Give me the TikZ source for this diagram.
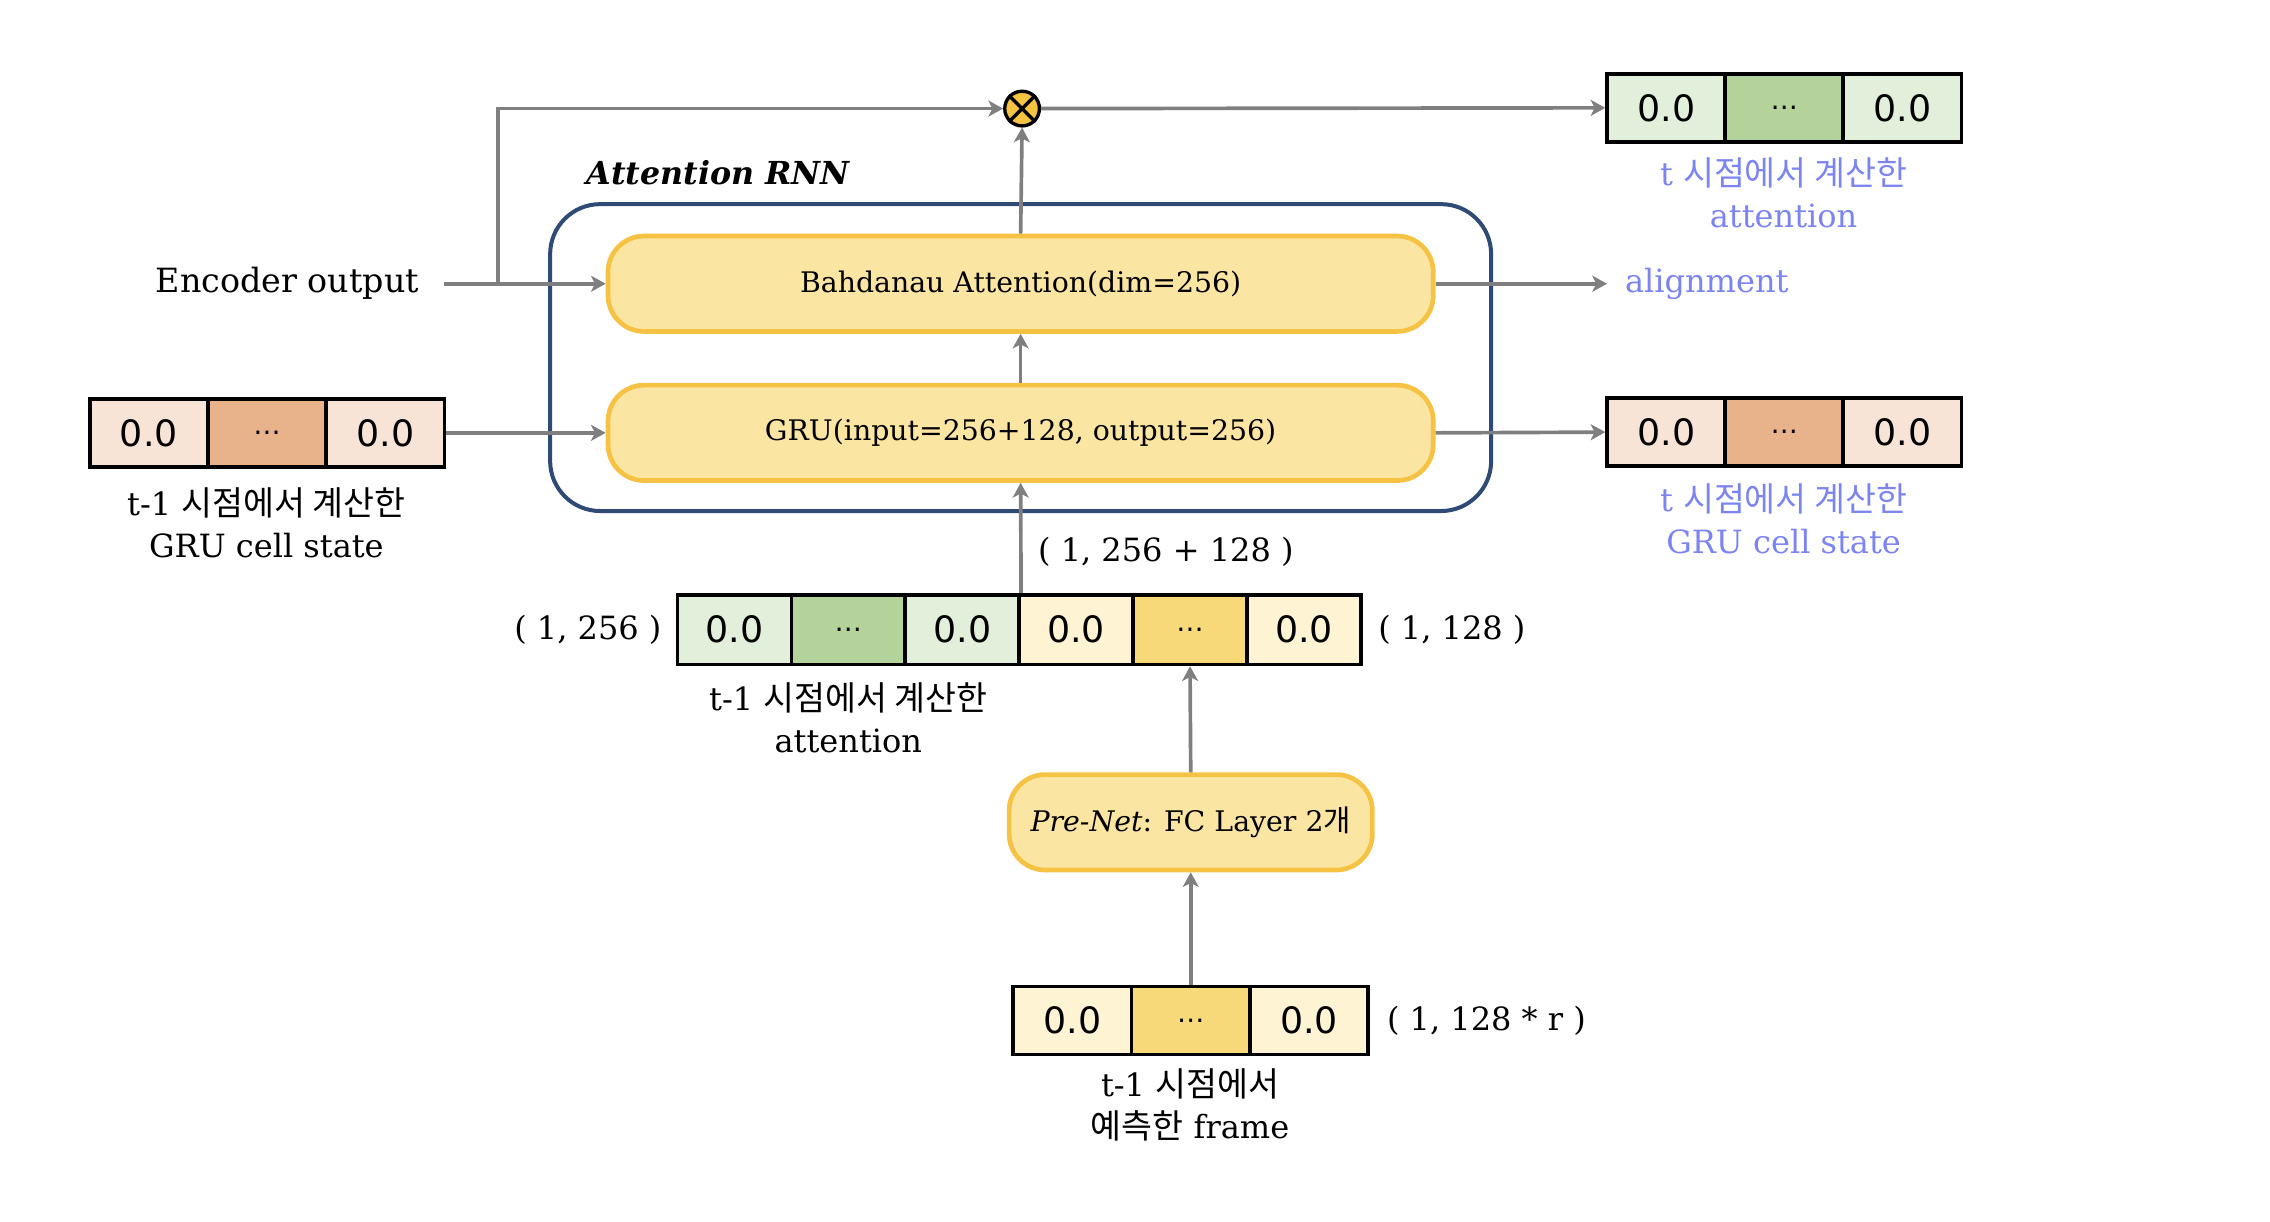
\documentclass[tikz,border=0pt]{standalone}
\usepackage{fontspec}
\setmainfont{DejaVu Serif}
\newfontfamily\krfont{Noto Sans CJK KR}[Scale=1.05]
\newfontfamily\numfont{DejaVu Sans}
\newcommand{\kr}[1]{{\krfont #1}}
\newcommand{\lblfont}{\fontsize{9.6}{12.6}\selectfont}
\newcommand{\boxfont}{\fontsize{8.5}{10}\selectfont}
\newcommand{\cellfont}{\numfont\fontsize{10.9}{12}\selectfont}
\newcommand{\dotsy}{{\numfont\fontsize{8.2}{9}\selectfont …}}
\usetikzlibrary{arrows.meta}
\definecolor{linegray}{RGB}{127,127,127}
\definecolor{navy}{RGB}{47,75,117}
\definecolor{boxfill}{RGB}{251,229,163}
\definecolor{boxdraw}{RGB}{245,194,67}
\definecolor{grnL}{RGB}{226,239,218}
\definecolor{grnM}{RGB}{179,211,155}
\definecolor{orL}{RGB}{248,228,214}
\definecolor{orM}{RGB}{232,179,138}
\definecolor{yelL}{RGB}{254,243,210}
\definecolor{yelM}{RGB}{247,217,122}
\definecolor{otfill}{RGB}{245,195,66}
\definecolor{bluetxt}{RGB}{123,132,240}
\tikzset{
  arr/.style={draw=linegray, line width=1.1pt, -{Stealth[length=4.4pt,width=4.8pt,inset=1.2pt]}},
  cellbox/.style={draw=black, line width=1.1pt, minimum width=35.46pt, minimum height=20.4pt, inner sep=0pt, font=\cellfont},
  ccell/.style={cellbox, minimum width=34.14pt, minimum height=20.8pt},
  ybox/.style={draw=boxdraw, fill=boxfill, line width=1.4pt, rounded corners=10.8pt, minimum width=247.4pt, minimum height=28.6pt, font=\boxfont},
  container/.style={draw=navy, line width=1.2pt, rounded corners=15pt, minimum width=282.1pt, minimum height=92pt},
  lbl/.style={font=\lblfont, inner sep=2pt, align=center},
  bluelbl/.style={lbl, text=bluetxt},
  otimes/.style={circle, draw=black, fill=otfill, line width=1pt, minimum size=10.4pt, inner sep=0pt},
}
\begin{document}
\begin{tikzpicture}[x=0.434pt,y=-0.434pt]
\useasboundingbox (0,0) rectangle (1568,844);

% container and title
\node[container] (rnn) at (705,247) {};
\node[anchor=west, inner sep=0pt, font=\fontsize{9.5}{11}\selectfont\bfseries\itshape] (rnnt) at (405,119) {Attention RNN};

% inner boxes
\node[ybox] (bahd) at (705,196) {Bahdanau Attention(dim=256)};
\node[ybox] (gru) at (705,299) {GRU(input=256+128, output=256)};

% otimes
\node[otimes] (ot) at (706,75) {};
\draw[line width=1pt] (ot.north west) -- (ot.south east) (ot.north east) -- (ot.south west);

% top right attention vector
\node[cellbox, fill=grnL] (ta1) at (1151,74.5) {0.0};
\node[cellbox, fill=grnM] (ta2) at (1232.5,74.5) {\dotsy};
\node[cellbox, fill=grnL] (ta3) at (1314,74.5) {0.0};
\node[bluelbl] (talbl) at (1232,133.5) {t \kr{시점에서 계산한}\\attention};

% alignment
\node[bluelbl, anchor=west, inner sep=0pt] (al) at (1122,196) {alignment};

% right GRU state
\node[cellbox, fill=orL] (rg1) at (1151,298.5) {0.0};
\node[cellbox, fill=orM] (rg2) at (1232.5,298.5) {\dotsy};
\node[cellbox, fill=orL] (rg3) at (1314,298.5) {0.0};
\node[bluelbl] (rglbl) at (1232,358.5) {t \kr{시점에서 계산한}\\GRU cell state};

% left GRU state
\node[cellbox, fill=orL] (lg1) at (102.8,299) {0.0};
\node[cellbox, fill=orM] (lg2) at (184.5,299) {\dotsy};
\node[cellbox, fill=orL] (lg3) at (266.2,299) {0.0};
\node[lbl] (lglbl) at (184,361) {t-1 \kr{시점에서 계산한}\\GRU cell state};

% encoder output
\node[lbl, anchor=east, inner sep=3.4pt, font=\fontsize{10}{12}\selectfont] (enc) at (297.8,196) {Encoder output};
\coordinate (br) at (344,196);

% concat vector
\node[ccell, fill=grnL] (c1) at (507.3,435) {0.0};
\node[ccell, fill=grnM] (c2) at (586,435) {\dotsy};
\node[ccell, fill=grnL] (c3) at (664.7,435) {0.0};
\node[ccell, fill=yelL] (c4) at (743.3,435) {0.0};
\node[ccell, fill=yelM] (c5) at (822,435) {\dotsy};
\node[ccell, fill=yelL] (c6) at (900.7,435) {0.0};
\node[lbl, anchor=east] (d256) at (462,435) {( 1, 256 )};
\node[lbl, anchor=west] (d128) at (947,435) {( 1, 128 )};
\node[lbl, anchor=west] (dsum) at (712,381) {( 1, 256 + 128 )};
\node[lbl] (clbl) at (586,496) {t-1 \kr{시점에서 계산한}\\attention};

% pre-net
\node[ybox, minimum width=108.9pt] (pre) at (822.5,568) {\textit{Pre-Net}: FC Layer 2\kr{개}};

% frame vector
\node[cellbox, fill=yelL] (f1) at (740.8,705) {0.0};
\node[cellbox, fill=yelM] (f2) at (822.5,705) {\dotsy};
\node[cellbox, fill=yelL] (f3) at (904.2,705) {0.0};
\node[lbl, anchor=west] (dfr) at (953,705) {( 1, 128 * r )};
\node[lbl] (flbl) at (822,763.5) {t-1 \kr{시점에서}\\\kr{예측한} frame};

% connectors
\draw[arr] ([xshift=4pt]enc.east) -- (bahd.west);
\draw[arr] (br) |- (ot.west);
\draw[arr] (bahd.north) -- (ot.south);
\draw[arr] (ot.east) -- (ta1.west);
\draw[arr] (gru.north) -- (bahd.south);
\draw[arr] (bahd.east) -- ([xshift=-5.2pt]al.west);
\draw[arr] (gru.east) -- (rg1.west);
\draw[arr] (lg3.east) -- (gru.west);
\draw[arr] (c3.north east) -- (gru.south);
\draw[arr] (pre.north) -- (c5.south);
\draw[arr] (f2.north) -- (pre.south);
\end{tikzpicture}
\end{document}
